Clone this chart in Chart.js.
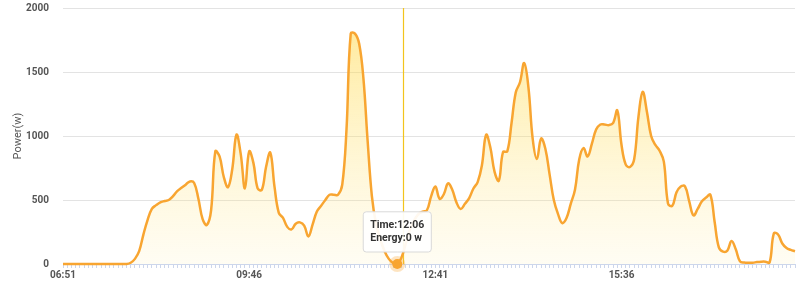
<!DOCTYPE html>
<html>
<head>
<meta charset="utf-8">
<script src="https://cdn.jsdelivr.net/npm/chart.js@4.4.1/dist/chart.umd.min.js"></script>
<style>
  html, body { margin: 0; padding: 0; background: #ffffff; }
  #wrap { width: 800px; height: 287px; position: relative; }
</style>
</head>
<body>
<div id="wrap"><canvas id="c" width="800" height="287"></canvas></div>
<script>
// ---- data ----
const timeLabels = [
  "06:51","06:55","06:59","07:03","07:07","07:11","07:15","07:19","07:23","07:27",
  "07:31","07:35","07:39","07:43","07:47","07:51","07:55","07:59","08:03","08:07",
  "08:11","08:15","08:19","08:23","08:27","08:31","08:35","08:39","08:43","08:47",
  "08:51","08:55","08:59","09:03","09:07","09:11","09:15","09:19","09:23","09:27",
  "09:31","09:35","09:39","09:43","09:46","09:50","09:54","09:58","10:02","10:06",
  "10:10","10:14","10:18","10:22","10:26","10:30","10:34","10:38","10:42","10:46",
  "10:50","10:54","10:58","11:02","11:06","11:10","11:14","11:18","11:22","11:26",
  "11:30","11:34","11:38","11:42","11:46","11:50","11:54","11:58","12:02","12:06",
  "12:10","12:14","12:18","12:22","12:26","12:30","12:34","12:38","12:41","12:45",
  "12:49","12:53","12:57","13:01","13:05","13:09","13:13","13:17","13:21","13:25",
  "13:29","13:33","13:37","13:41","13:45","13:49","13:53","13:57","14:01","14:05",
  "14:09","14:13","14:17","14:21","14:25","14:29","14:33","14:37","14:41","14:45",
  "14:49","14:53","14:57","15:01","15:05","15:09","15:13","15:17","15:21","15:25",
  "15:29","15:33","15:36","15:40","15:44","15:48","15:52","15:56","16:00","16:04",
  "16:08","16:12","16:16","16:20","16:24","16:28","16:32","16:36","16:40","16:44",
  "16:48","16:52","16:56","17:00","17:04","17:08","17:12","17:16","17:20","17:24",
  "17:28","17:32","17:36","17:40","17:44","17:48","17:52","17:56","18:00","18:04",
  "18:08","18:12","18:16","18:20"
];

const powerW = [
  0,0,0,0,0,0,0,0,0,0,
  0,0,0,0,0,0,10,40,100,230,
  345,430,460,482,492,500,530,570,595,620,
  645,633,510,350,305,420,880,840,680,600,
  740,1010,860,590,880,790,590,580,760,870,
  600,400,360,290,270,315,325,300,215,310,
  410,455,500,541,541,541,620,1050,1800,1800,
  1720,1450,960,530,310,190,100,40,8,0,
  50,160,270,340,390,410,420,528,606,510,
  545,630,580,480,430,470,515,590,640,770,
  1010,910,720,650,875,880,1100,1340,1420,1570,
  1380,980,820,980,900,700,500,390,320,360,
  470,580,816,905,840,940,1050,1090,1090,1085,
  1100,1200,930,776,758,820,1150,1345,1190,1000,
  930,885,800,470,455,560,606,606,490,380,
  430,490,520,541,330,130,97,104,180,115,
  20,12,10,10,15,18,18,12,240,230,
  160,125,110,100
];

const yTicks = [0, 500, 1000, 1500, 2000];
const labelEvery = 44;          // show every 44th time label
const hoverIndex = 79;          // tooltip point (12:06)
const cursorIndex = 80.25;      // mouse cursor position (category units)

const LINE = '#f8a531';

const crosshair = {
  id: 'crosshair',
  beforeDatasetsDraw(chart) {
    const { ctx, chartArea, scales } = chart;
    const x = Math.round(scales.x.getPixelForValue(cursorIndex)) + 0.5;
    ctx.save();
    ctx.strokeStyle = '#f2c41c';
    ctx.lineWidth = 1.2;
    ctx.beginPath();
    ctx.moveTo(x, chartArea.top);
    ctx.lineTo(x, chartArea.bottom);
    ctx.stroke();
    ctx.restore();
  }
};

const chart = new Chart(document.getElementById('c'), {
  type: 'line',
  data: {
    labels: timeLabels,
    datasets: [{
      data: powerW,
      borderColor: LINE,
      borderWidth: 2.5,
      tension: 0.4,
      fill: 'origin',
      clip: false,
      backgroundColor(ctx) {
        const { chart } = ctx;
        const area = chart.chartArea;
        if (!area) return 'rgba(255,225,110,0.3)';
        const g = chart.ctx.createLinearGradient(0, area.top, 0, area.bottom);
        g.addColorStop(0, 'rgba(255,214,60,0.55)');
        g.addColorStop(1, 'rgba(255,232,140,0.10)');
        return g;
      },
      pointRadius: 0,
      pointHoverRadius: 5,
      pointHoverBackgroundColor: LINE,
      pointHoverBorderColor: 'rgba(248,165,49,0.3)',
      pointHoverBorderWidth: 6
    }]
  },
  options: {
    responsive: false,
    animation: false,
    events: [],
    layout: { padding: { top: 3, right: 5, left: 0, bottom: 0 } },
    interaction: { mode: 'index', intersect: false },
    plugins: {
      legend: { display: false },
      tooltip: {
        enabled: true,
        backgroundColor: 'rgba(255,255,255,0.92)',
        borderColor: '#d9d9d9',
        borderWidth: 1,
        bodyColor: '#333333',
        bodyFont: { family: 'Roboto', size: 10.5, weight: 'bold' },
        bodySpacing: 1,
        padding: { left: 7, right: 7, top: 7, bottom: 7 },
        displayColors: false,
        caretSize: 0,
        caretPadding: 12,
        yAlign: 'bottom',
        xAlign: 'center',
        cornerRadius: 3,
        callbacks: {
          title: () => [],
          label: (ctx) => ['Time:' + ctx.label, 'Energy:' + ctx.parsed.y + ' w']
        }
      }
    },
    scales: {
      x: {
        type: 'category',
        offset: false,
        border: { display: true, color: '#ccd6eb', width: 1 },
        grid: {
          display: true,
          drawOnChartArea: false,
          drawTicks: true,
          tickLength: 4,
          color: '#ccd6eb'
        },
        ticks: {
          autoSkip: false,
          maxRotation: 0,
          minRotation: 0,
          padding: 1,
          color: '#555555',
          font: { family: 'Roboto', size: 10, weight: 'bold' },
          callback: (v, i) => (i % labelEvery === 0 ? timeLabels[i] : '')
        },
        afterFit(scale) { scale.height = 23; }
      },
      y: {
        min: 0,
        max: 2000,
        afterBuildTicks(scale) { scale.ticks = yTicks.map(v => ({ value: v })); },
        border: { display: false },
        grid: { color: '#e3e3e3', drawTicks: true, tickLength: 12, tickColor: 'rgba(0,0,0,0)' },
        ticks: {
          padding: 2,
          color: '#555555',
          font: { family: 'Roboto', size: 10, weight: 'bold' },
          callback: (v) => String(v)
        },
        title: {
          display: true,
          text: 'Power(w)',
          color: '#555555',
          font: { family: 'Roboto', size: 11 },
          padding: { top: 12, bottom: 4 }
        },
        afterFit(scale) { scale.width = 63; }
      }
    }
  },
  plugins: [crosshair]
});

const act = [{ datasetIndex: 0, index: hoverIndex }];
const pt = chart.getDatasetMeta(0).data[hoverIndex];
chart.setActiveElements(act);
chart.tooltip.setActiveElements(act, { x: pt.x, y: pt.y });
chart.update('none');
</script>
</body>
</html>
